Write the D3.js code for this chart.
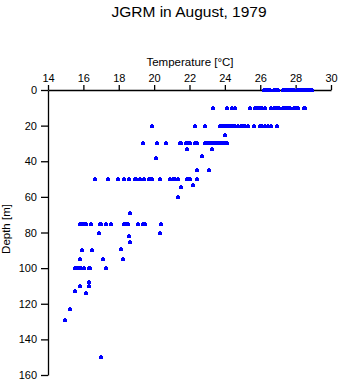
<!DOCTYPE html>
<html><head><meta charset="utf-8">
<script src="https://cdn.jsdelivr.net/npm/d3@7"></script>
<style>body{margin:0;background:#fff}svg{display:block}text{font-family:"Liberation Sans",Arial,sans-serif;fill:#000}</style>
</head><body><svg id="c" width="341" height="384"></svg>
<script>
const title = "JGRM in August, 1979";
const xTitle = "Temperature [°C]";
const yTitle = "Depth [m]";
const xTicks = [14,16,18,20,22,24,26,28,30];
const yTicks = [0,20,40,60,80,100,120,140,160];

const levelDepths = [0,10,20,30,50,75,100];
const temps0 = [26.2,26.3,26.45,26.55,26.8,26.9,27.0,27.3,27.4,27.5,27.6,27.7,27.8,27.9,28.05,28.15,28.25,28.35,28.5,28.6,28.7,28.8,28.95];
const temps10 = [23.35,24.1,24.4,24.6,25.4,25.7,25.8,25.9,26.0,26.1,26.25,26.6,26.75,26.85,26.95,27.05,27.3,27.4,27.5,27.6,27.7,27.9,28.0,28.15,28.45,28.55];
const temps20 = [19.9,22.3,22.85,23.7,23.8,23.9,24.0,24.1,24.2,24.3,24.4,24.5,24.6,24.75,24.9,25.0,25.15,25.3,25.65,26.0,26.1,26.25,26.45,26.6,26.95];
const temps30 = [19.35,20.15,20.65,21.45,21.5,21.8,21.9,22.05,22.3,22.45,22.9,23.0,23.1,23.2,23.3,23.4,23.5,23.6,23.7,23.8,23.9,24.0,24.1];
const temps50 = [16.65,17.4,17.95,18.3,18.6,18.9,19.0,19.2,19.45,19.7,19.8,19.9,20.35,20.9,21.05,21.2,21.35,21.85,21.95,22.05,22.4];
const temps75 = [15.8,15.9,16.0,16.07,16.17,16.45,16.92,17.0,17.3,17.58,18.3,18.4,18.5,19.08,19.37,19.46,20.37];
const temps100 = [15.55,15.65,15.75,15.85,16.04,16.32,16.4,17.28];
const extraT = [24.0,21.85,23.25,22.72,20.1,22.42,23.1,22.2,21.53,21.35,18.65,16.88,20.33,18.58,18.63,18.12,15.92,16.5,15.79,17.11,18.24,16.32,15.83,16.32,15.55,16.13,15.23,14.96,17.0];
const extraD = [25.4,33.3,33.3,37.0,38.4,45.0,45.0,53.3,54.3,60.3,69.3,80.5,80.5,82.2,85.3,89.5,90,90,95,95,95,108,110,110,113,114,123,129,150];

const levelTemps = [temps0,temps10,temps20,temps30,temps50,temps75,temps100];
const points = [];
levelDepths.forEach((d,i)=>levelTemps[i].forEach(t=>points.push({t,d})));
extraT.forEach((t,i)=>points.push({t,d:extraD[i]}));

const svg = d3.select("#c");
const x = d3.scaleLinear().domain([14,30]).range([48,331]);
const y = d3.scaleLinear().domain([0,160]).range([90,375]);

svg.append("text").attr("x",189).attr("y",17).attr("text-anchor","middle")
  .style("font-size","15.5px").text(title);
svg.append("text").attr("x",190).attr("y",66).attr("text-anchor","middle")
  .style("font-size","11.5px").text(xTitle);
svg.append("text").attr("transform","translate(10,229) rotate(-90)").attr("text-anchor","middle")
  .style("font-size","11.5px").text(yTitle);

const xa = svg.append("g").attr("transform","translate(0,90)")
  .call(d3.axisTop(x).tickValues(xTicks).tickSize(5).tickPadding(3).tickSizeOuter(0));
const ya = svg.append("g").attr("transform","translate(48,0)")
  .call(d3.axisLeft(y).tickValues(yTicks).tickSize(7).tickPadding(4).tickSizeOuter(0));
[xa,ya].forEach(g=>{
  g.select(".domain").attr("stroke","#000").attr("stroke-width",1.3);
  g.selectAll(".tick line").attr("stroke","#000").attr("stroke-width",1.3);
  g.selectAll(".tick text").style("font-size","11px").attr("fill","#000")
   .style("font-family",'"Liberation Sans",Arial,sans-serif');
});

const g = svg.append("g").attr("fill","#0000ff").attr("shape-rendering","crispEdges");
const mk = g.selectAll("g.p").data(points).join("g").attr("class","p")
  .attr("transform",p=>`translate(${Math.round(x(p.t))},${Math.round(y(p.d))})`);
mk.append("rect").attr("x",-2).attr("y",-1).attr("width",4).attr("height",3);
mk.append("rect").attr("x",-1).attr("y",-2).attr("width",2).attr("height",4);
</script></body></html>
